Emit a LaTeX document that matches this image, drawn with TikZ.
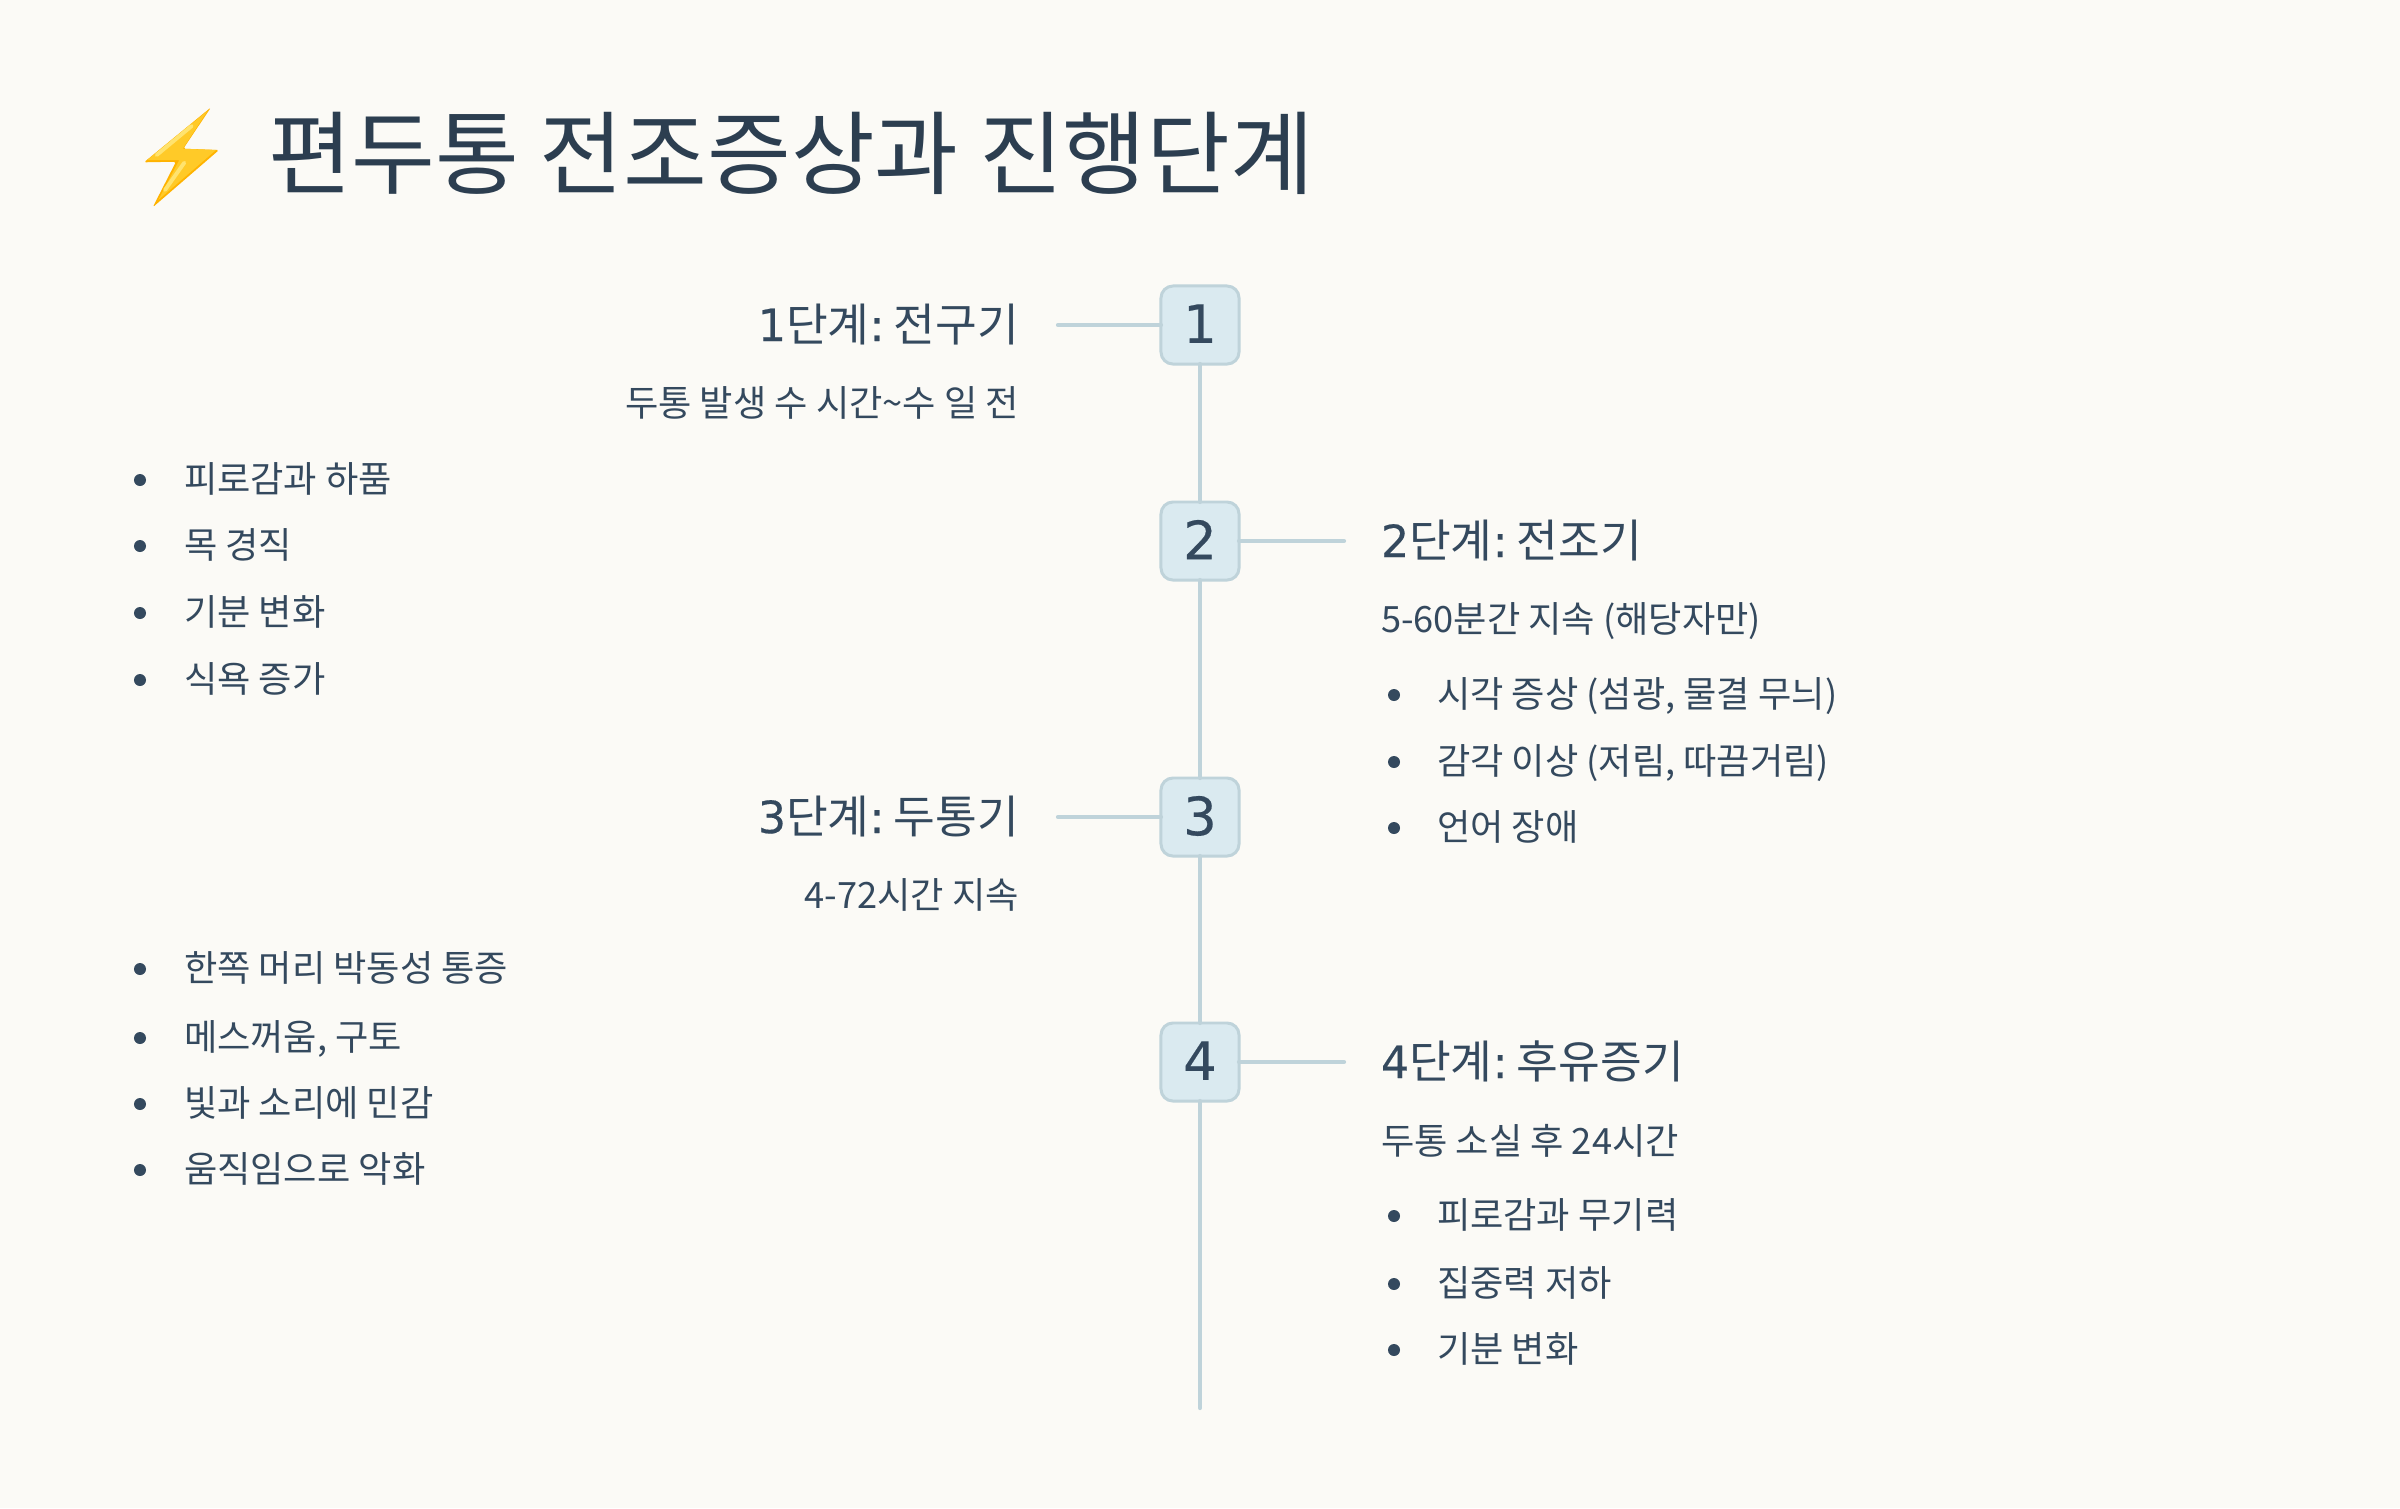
\documentclass[tikz,border=0pt]{standalone}
\usepackage{fontspec}
\usepackage{xcolor}
\setmainfont{Noto Sans CJK KR}
\newfontfamily\digitfont[FakeBold=0.4]{DejaVu Sans}
\usetikzlibrary{positioning}
\definecolor{paper}{HTML}{FBFAF6}
\definecolor{ink}{HTML}{2C3E50}
\definecolor{slate}{HTML}{34495E}
\definecolor{rail}{HTML}{BFD3DA}
\definecolor{pale}{HTML}{DAEAF0}
\definecolor{boltmain}{HTML}{FFCA28}
\definecolor{boltedge}{HTML}{FFB300}
\definecolor{boltlite}{HTML}{FFE36E}
\tikzset{
  every node/.style={inner sep=0pt,outer sep=0pt,text=slate},
  stagebox/.style={rounded corners=3.4pt,draw=rail,line width=0.85pt,fill=pale,minimum size=0.78cm,font=\digitfont\fontsize{15pt}{18pt}\selectfont},
  railline/.style={draw=rail,line width=1.2pt,line cap=round},
  titletxt/.style={anchor=base west,text=ink,font=\fontsize{25.9pt}{30pt}\selectfont},
  headl/.style={anchor=base east,font=\fontsize{12.9pt}{16pt}\selectfont},
  headr/.style={anchor=base west,font=\fontsize{12.9pt}{16pt}\selectfont},
  subl/.style={anchor=base east,font=\fontsize{10.3pt}{13pt}\selectfont},
  subr/.style={anchor=base west,font=\fontsize{10.3pt}{13pt}\selectfont},
  item/.style={anchor=base west,font=\fontsize{10.3pt}{13pt}\selectfont},
  dot/.style={circle,fill=slate,minimum size=0.12cm},
  boltglint/.style={draw=boltlite,line width=1.1pt,line cap=round},
}
\newcommand{\dg}[1]{{\digitfont\fontsize{12.6pt}{16pt}\selectfont #1}}
\newcommand{\dgc}{{\digitfont\fontsize{12.6pt}{16pt}\selectfont :}\hspace{-1.2pt}}
\begin{document}
\begin{tikzpicture}[x=0.01cm,y=-0.01cm]
  \fill[paper] (0,0) rectangle (2400,1508);
  \useasboundingbox (0,0) rectangle (2400,1508);
  % bolt
  \fill[boltedge,rounded corners=0.5pt] (211,107.3) -- (144,162.3) -- (176,161.7) -- (152.7,207.3) -- (219,150) -- (183.3,148.7) -- cycle;
  \fill[boltmain] (207.7,110.7) -- (147.3,160) -- (179.3,160) -- (158.3,200) -- (216,150) -- (182.7,148.7) -- cycle;
  \draw[boltglint] (191.7,126) -- (156.7,155);
  \draw[boltglint] (184.3,162.7) -- (165,190);
  \node[titletxt] (title) at (268,187) {편두통 전조증상과 진행단계};
  % stages
  \foreach \name/\ypos/\val in {s1/325/1,s2/541/2,s3/817/3,s4/1062/4}
    \node[stagebox] (\name) at (1200,\ypos) {\raisebox{0.8pt}{\val}};
  \coordinate (railend) at (1200,1408);
  \coordinate (l1) at (1058,325);
  \coordinate (l2) at (1344,541);
  \coordinate (l3) at (1058,817);
  \coordinate (l4) at (1344,1062);
  \draw[railline] (s1) -- (s2);
  \draw[railline] (s2) -- (s3);
  \draw[railline] (s3) -- (s4);
  \draw[railline] (s4) -- (railend);
  \draw[railline] (l1) -- (s1);
  \draw[railline] (s2) -- (l2);
  \draw[railline] (l3) -- (s3);
  \draw[railline] (s4) -- (l4);
  % headings
  \node[headl] (h1) at (1019,341) {\dg{1}단계\dgc{} 전구기};
  \node[headr] (h2) at (1381,557) {\dg{2}단계\dgc{} 전조기};
  \node[headl] (h3) at (1019,833) {\dg{3}단계\dgc{} 두통기};
  \node[headr] (h4) at (1381,1078) {\dg{4}단계\dgc{} 후유증기};
  \node[subl] (t1) at (1019,416) {두통 발생 수 시간\textasciitilde 수 일 전};
  \node[subr] (t2) at (1381,632) {5-60분간 지속 (해당자만)};
  \node[subl] (t3) at (1019,908) {4-72시간 지속};
  \node[subr] (t4) at (1381,1154) {두통 소실 후 24시간};
  % lists
  \foreach \name/\ypos/\txt in {a1/480/피로감과 하품,a2/546/목 경직,a3/613/기분 변화,a4/680/식욕 증가,
    c1/969/한쪽 머리 박동성 통증,c2/1038/{메스꺼움, 구토},c3/1104/빛과 소리에 민감,c4/1170/움직임으로 악화}{
    \node[dot] (d\name) at (140,\ypos) {};
    \node[item] (i\name) at (184,\ypos+12) {\txt};
  }
  \foreach \name/\ypos/\txt in {b1/695/{시각 증상 (섬광, 물결 무늬)},b2/762/{감각 이상 (저림, 따끔거림)},b3/828/언어 장애,
    e1/1216/피로감과 무기력,e2/1284/집중력 저하,e3/1350/기분 변화}{
    \node[dot] (d\name) at (1394,\ypos) {};
    \node[item] (i\name) at (1437,\ypos+12) {\txt};
  }
\end{tikzpicture}
\end{document}
